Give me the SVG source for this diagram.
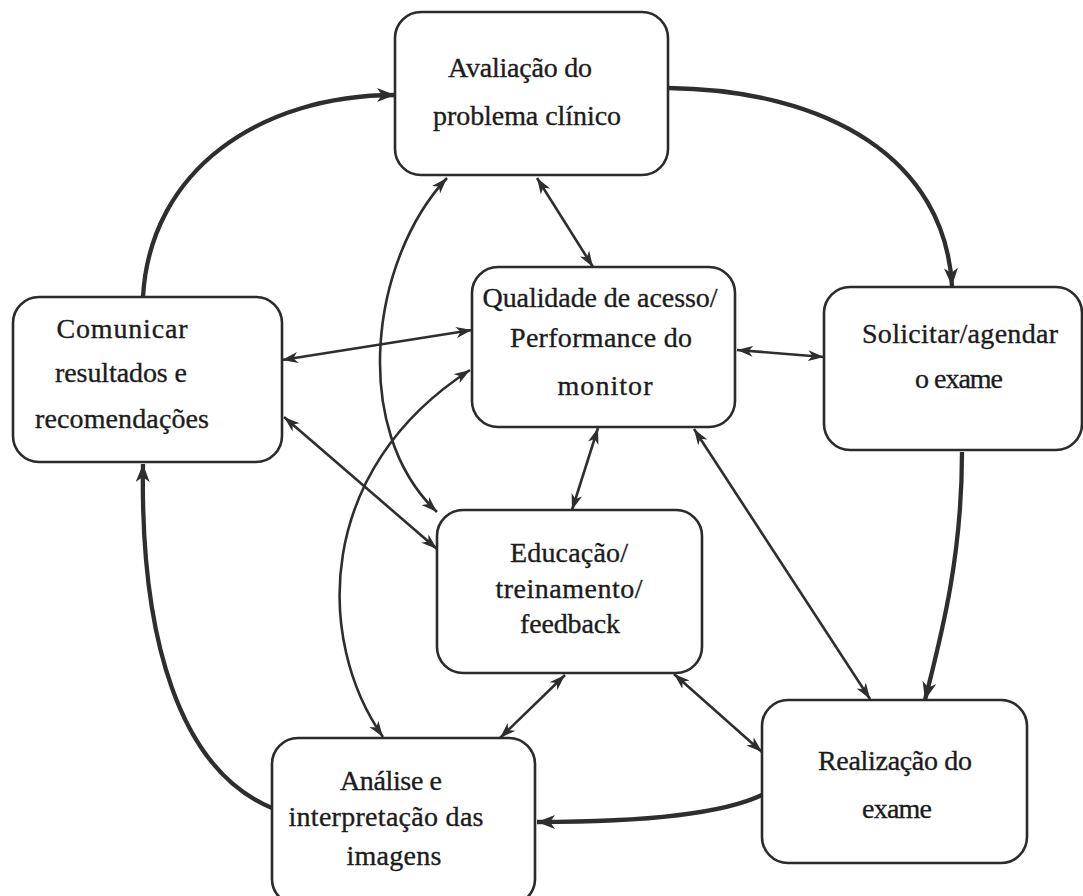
<svg xmlns="http://www.w3.org/2000/svg" width="1083" height="896" viewBox="0 0 1083 896">
<style>
.box{fill:#fff;stroke:#2b2b2b;stroke-width:2.6}
.t{font-family:"Liberation Serif","DejaVu Serif",serif;font-size:28px;fill:#1c1c1c;stroke:#1c1c1c;stroke-width:0.35;text-anchor:middle}
.thick{fill:none;stroke:#2e2e2e;stroke-width:4.3;marker-end:url(#hk)}
.thin{fill:none;stroke:#2e2e2e;stroke-width:2.6;marker-start:url(#hn);marker-end:url(#hn)}
</style>
<defs>
<marker id="hk" markerUnits="userSpaceOnUse" markerWidth="20" markerHeight="16" refX="18" refY="7" orient="auto">
<path d="M0,0 L18,7 L0,14 L5,7 z" fill="#2e2e2e"/>
</marker>
<marker id="hn" markerUnits="userSpaceOnUse" markerWidth="18" markerHeight="12" refX="16" refY="5.5" orient="auto-start-reverse">
<path d="M0,0 L16,5.5 L0,11 L4.5,5.5 z" fill="#2e2e2e"/>
</marker>
</defs>
<rect width="1083" height="896" fill="#fff"/>
<g id="connectors">
<path class="thick" d="M668,88 C830,90 945,160 952,286"/>
<path class="thick" d="M962,452 C962,560 940,640 925,700"/>
<path class="thick" d="M762,795 C720,815 640,822 537,822"/>
<path class="thick" d="M272,808 C180,770 140,640 143,464"/>
<path class="thick" d="M143,297 C150,170 260,95 395,95"/>
<path class="thin" d="M537,178 L593,267"/>
<path class="thin" d="M282,360 L472,330"/>
<path class="thin" d="M737,350 L824,357"/>
<path class="thin" d="M598,428 L572,510"/>
<path class="thin" d="M284,417 L437,549"/>
<path class="thin" d="M447,178 C370,260 350,430 437,512"/>
<path class="thin" d="M383,737 C315,640 315,470 470,370"/>
<path class="thin" d="M694,429 L870,699"/>
<path class="thin" d="M565,675 L500,738"/>
<path class="thin" d="M674,674 L762,752"/>
</g>
<g id="avaliacao">
<rect class="box" x="395" y="12" width="273" height="163" rx="26"/>
<text class="t" x="520" y="77" textLength="144">Avaliação do</text>
<text class="t" x="527" y="125" textLength="188">problema clínico</text>
</g>
<g id="comunicar">
<rect class="box" x="13" y="297" width="269" height="165" rx="26"/>
<text class="t" x="122" y="338" textLength="131">Comunicar</text>
<text class="t" x="121" y="382" textLength="132">resultados e</text>
<text class="t" x="122" y="428" textLength="174">recomendações</text>
</g>
<g id="qualidade">
<rect class="box" x="472" y="267" width="263" height="160" rx="26"/>
<text class="t" x="600" y="307" textLength="235">Qualidade de acesso/</text>
<text class="t" x="601" y="347" textLength="182">Performance do</text>
<text class="t" x="605" y="395" textLength="95">monitor</text>
</g>
<g id="solicitar">
<rect class="box" x="824" y="287" width="258" height="163" rx="26"/>
<text class="t" x="960" y="343" textLength="196">Solicitar/agendar</text>
<text class="t" x="959" y="388" textLength="88">o exame</text>
</g>
<g id="educacao">
<rect class="box" x="437" y="510" width="265" height="163" rx="26"/>
<text class="t" x="569" y="562" textLength="118">Educação/</text>
<text class="t" x="569" y="598" textLength="147">treinamento/</text>
<text class="t" x="570" y="633" textLength="100">feedback</text>
</g>
<g id="analise">
<rect class="box" x="272" y="738" width="263" height="167" rx="26"/>
<text class="t" x="391" y="790" textLength="102">Análise e</text>
<text class="t" x="386" y="826" textLength="195">interpretação das</text>
<text class="t" x="394" y="865" textLength="95">imagens</text>
</g>
<g id="realizacao">
<rect class="box" x="762" y="700" width="265" height="163" rx="26"/>
<text class="t" x="895" y="770" textLength="154">Realização do</text>
<text class="t" x="897" y="818" textLength="70">exame</text>
</g>
</svg>
